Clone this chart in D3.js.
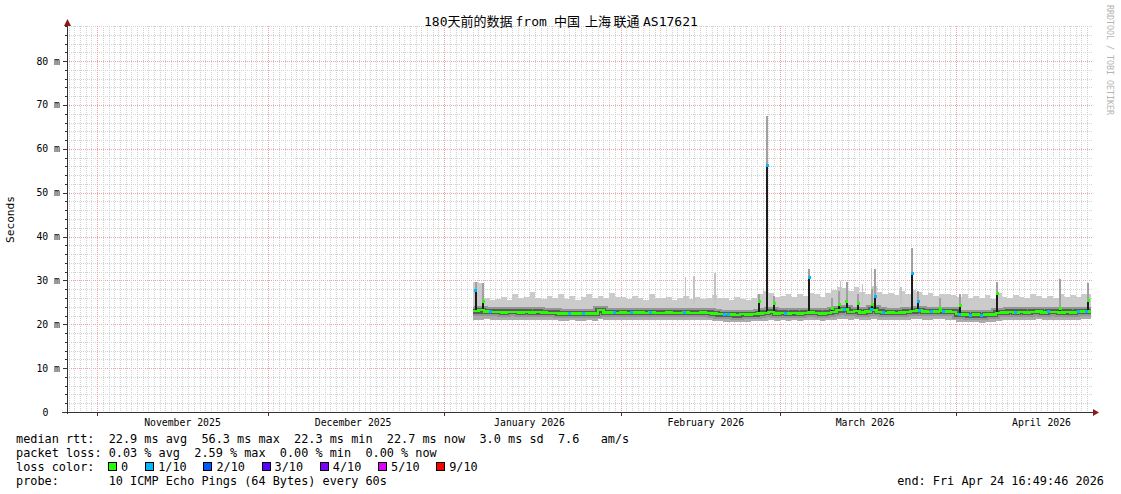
<!DOCTYPE html>
<html><head><meta charset="utf-8">
<script src="https://cdn.jsdelivr.net/npm/d3@7"></script>
<style>body{margin:0;background:#fff}svg{display:block}text{font-family:"DejaVu Sans Mono","Noto Sans CJK SC",monospace}</style>
</head><body><svg id="c" width="1121" height="494"></svg>
<script>
// ---------- data ----------
const firstDay = "2026-01-06";              // first day with data (daily buckets)
const medianRtt = [
 23.0,23.2,22.9,22.8,22.8,22.7,22.8,22.8,22.7,22.8,22.7,22.8,22.7,22.6,22.6,22.5,22.4,22.4,22.5,22.4,22.4,22.5,23.2,22.7,22.7,22.6,
 22.7,22.6,22.7,22.7,22.6,22.7,22.6,22.6,22.7,22.6,22.6,22.7,22.6,22.6,22.7,22.6,22.5,22.3,22.3,22.2,22.1,22.3,22.2,22.3,22.4,22.6,22.8,22.5,
 22.6,22.5,22.6,22.5,22.6,22.7,22.6,22.5,22.6,22.8,23.2,23.4,22.8,23.0,22.7,22.9,23.3,22.8,22.6,22.7,22.6,22.7,22.8,23.0,23.2,22.9,22.8,22.9,23.0,22.9,22.8,
 22.3,22.2,22.1,22.2,22.1,22.2,22.2,22.6,22.7,22.8,22.7,22.8,22.7,22.8,22.9,22.7,22.8,22.8,22.7,22.8,22.7,22.8,22.9,22.9];
const maxRtt = [
 29.6,29.4,26.0,25.5,25.8,26.3,25.6,26.8,25.9,26.2,27.4,26.0,25.7,26.5,26.1,27.0,25.8,26.4,25.6,26.2,26.9,25.9,26.5,26.0,27.1,26.3,
 26.2,25.7,26.4,26.0,25.5,26.8,26.1,25.9,26.3,25.6,26.0,26.5,25.8,26.2,25.7,26.0,26.6,25.9,26.1,25.5,26.3,25.8,25.6,26.1,27.0,27.6,27.2,26.2,
 26.4,26.9,26.2,27.0,26.5,27.2,26.8,26.3,27.1,27.8,28.6,28.2,27.6,28.4,27.3,27.0,28.8,27.4,26.8,27.2,26.6,27.5,26.9,27.8,27.4,26.7,27.1,26.5,27.0,26.8,26.6,
 26.2,26.8,25.9,26.4,26.1,26.6,25.8,27.2,26.3,26.0,26.7,26.2,25.9,26.8,26.4,26.1,26.5,26.0,26.9,26.3,26.6,26.2,26.8,27.0];
const minRtt = [
 20.9,21.0,21.1,21.0,21.0,20.9,21.0,21.0,20.9,21.0,21.0,20.9,21.0,20.9,20.9,20.8,20.8,20.9,20.8,20.8,20.9,20.8,21.2,21.0,20.9,20.9,
 21.0,20.9,21.0,20.9,20.9,21.0,20.9,20.9,21.0,20.9,20.9,21.0,20.9,20.9,21.0,20.9,20.8,20.7,20.6,20.6,20.5,20.6,20.6,20.7,20.7,20.8,21.0,20.8,
 20.9,20.8,20.9,20.8,20.9,21.0,20.9,20.8,20.9,21.0,21.2,21.3,21.0,21.1,20.9,21.0,21.2,21.0,20.9,21.0,20.9,21.0,21.0,21.1,21.2,21.0,21.0,21.1,21.1,21.0,21.0,
 20.6,20.5,20.5,20.5,20.4,20.5,20.5,20.8,20.9,21.0,20.9,21.0,20.9,21.0,21.1,20.9,21.0,21.0,20.9,21.0,20.9,21.0,21.1,21.1];
// short median spikes: time, median value, smoke top, loss (tenths)
const spikeTimes = ["2026-01-06T14:00","2026-01-07T21:00","2026-02-25T09:00","2026-02-26T19:00","2026-02-28T00:00",
 "2026-03-06T04:00","2026-03-10T05:00","2026-03-11T10:00","2026-03-12T19:00","2026-03-14T19:00","2026-03-17T05:00",
 "2026-03-17T19:00","2026-03-24T07:00","2026-03-25T07:00","2026-03-29T05:00","2026-04-01T17:00","2026-04-08T05:00",
 "2026-04-19T07:00","2026-04-24T05:00"];
const spikeValues = [27.8,25.1,25.1,56.3,24.8,30.7,23.7,24.4,25.1,24.8,24.6,26.3,31.6,25.1,23.7,24.2,27.0,23.7,25.5];
const spikeTops   = [29.6,29.4,27.0,67.5,26.5,32.6,26.0,27.5,29.7,27.0,28.0,32.6,37.3,27.5,26.0,27.0,29.6,30.3,29.4];
const spikeLoss   = [1,0,0,1,0,1,0,0,0,0,0,1,1,1,0,0,0,0,0];
// thin smoke-only peaks
const smokePeakTimes = ["2026-02-12T10:00","2026-02-13T22:00","2026-02-17T14:00","2026-03-11T16:00","2026-03-17T02:00","2026-03-22T08:00","2026-03-15T12:00"];
const smokePeakValues = [30.8,31.1,31.8,29.8,32.8,28.6,29.2];
// times where median had 1/10 loss
const lossTimes = ["2026-01-09T02:00","2026-01-23T00:00","2026-01-25T10:00","2026-01-30T22:00","2026-02-03T00:00",
 "2026-02-06T05:00","2026-02-12T05:00","2026-02-19T05:00","2026-02-19T22:00","2026-03-02T02:00","2026-03-12T07:00",
 "2026-03-17T02:00","2026-03-19T07:00","2026-03-25T12:00","2026-03-27T14:00","2026-03-29T17:00","2026-04-01T12:00",
 "2026-04-03T14:00","2026-04-05T10:00","2026-04-11T12:00","2026-04-17T05:00","2026-04-22T10:00","2026-04-23T22:00"];
const yTicks = [0,10,20,30,40,50,60,70,80];
const monthLabels = ["November 2025","December 2025","January 2026","February 2026","March 2026","April 2026"];
const lossLabels = ["0","1/10","2/10","3/10","4/10","5/10","9/10"];
const lossColors = ["#26ff00","#00b8ff","#0059ff","#5e00ff","#7e00ff","#dd00ff","#ff0000"];
const legendRows = [
 "median rtt:  22.9 ms avg  56.3 ms max  22.3 ms min  22.7 ms now  3.0 ms sd  7.6   am/s",
 "packet loss: 0.03 % avg  2.59 % max  0.00 % min  0.00 % now",
 "loss color:",
 "probe:       10 ICMP Echo Pings (64 Bytes) every 60s"];
const endText = "end: Fri Apr 24 16:49:46 2026";

// ---------- drawing ----------
const svg = d3.select("#c");
svg.append("rect").attr("width",1121).attr("height",494).attr("fill","#fff");
const P = (s)=>new Date(s+"Z");
const t0 = P("2025-10-26T16:49:46"), t1 = P("2026-04-24T16:49:46");
const x = d3.scaleUtc().domain([t0,t1]).range([67,1091]);
const y = d3.scaleLinear().domain([0,88]).range([412,26]);
const gL = 67, gR = 1093, gT = 26, gB = 412;

// grid
const grid = svg.append("g").attr("shape-rendering","crispEdges");
d3.range(2,89,2).forEach(v=>{
  const major = v%10===0;
  grid.append("line").attr("x1",gL).attr("x2",gR).attr("y1",Math.round(y(v))+0.5).attr("y2",Math.round(y(v))+0.5)
    .attr("stroke",major?"#f0a0a0":"#d2d2d2").attr("stroke-dasharray","1,1");
});
d3.utcDay.range(d3.utcDay.ceil(t0), t1).forEach(d=>{
  const major = d.getUTCDate()===1;
  const xx = Math.round(x(d))+0.5;
  grid.append("line").attr("x1",xx).attr("x2",xx).attr("y1",gT).attr("y2",gB)
    .attr("stroke",major?"#f0a0a0":"#d2d2d2").attr("stroke-dasharray","1,1");
});

// data
const days = medianRtt.map((v,i)=>d3.utcDay.offset(P(firstDay+"T00:00"),i));
const pts = days.map((d,i)=>({t:d,med:medianRtt[i],max:maxRtt[i],min:minRtt[i]}));
pts.push({t:t1,med:medianRtt[medianRtt.length-1],max:maxRtt[maxRtt.length-1],min:minRtt[minRtt.length-1]});
const dayIdx = t => Math.max(0,Math.min(medianRtt.length-1, d3.utcDay.count(P(firstDay+"T00:00"), t)));

const data = svg.append("g").attr("shape-rendering","crispEdges");
data.append("path").datum(pts).attr("fill","#cbcbcb")
  .attr("d",d3.area().curve(d3.curveStepAfter).x(d=>x(d.t)).y0(d=>y(d.min)).y1(d=>y(d.max)));
data.append("path").datum(pts).attr("fill","#ababab")
  .attr("d",d3.area().curve(d3.curveStepAfter).x(d=>x(d.t)).y0(d=>y(d.min)).y1(d=>y(d.med)));
// smoke-only peaks
smokePeakTimes.forEach((s,i)=>{
  const t=P(s), b=medianRtt[dayIdx(t)];
  data.append("rect").attr("x",x(t)-0.75).attr("width",1.5).attr("y",y(smokePeakValues[i]))
    .attr("height",y(b+2)-y(smokePeakValues[i])).attr("fill","#c4c4c4");
});
const medLine = d3.line().curve(d3.curveStepAfter).x(d=>x(d.t)).y(d=>y(d.med));
data.append("path").datum(pts).attr("fill","none").attr("stroke","#969696").attr("stroke-width",9).attr("d",medLine);
data.append("path").datum(pts).attr("fill","none").attr("stroke","#5c5c5c").attr("stroke-width",5).attr("d",medLine);
// spikes
spikeTimes.forEach((s,i)=>{
  const t=P(s), xs=x(t), b=medianRtt[dayIdx(t)];
  data.append("rect").attr("x",xs-1).attr("width",2).attr("y",y(spikeTops[i]))
    .attr("height",y(spikeValues[i])-y(spikeTops[i])).attr("fill","#a0a0a0");
  data.append("rect").attr("x",xs-1).attr("width",2).attr("y",y(spikeValues[i]))
    .attr("height",y(b)-y(spikeValues[i])).attr("fill","#1c1c1c");
});
data.append("path").datum(pts).attr("fill","none").attr("stroke",lossColors[0]).attr("stroke-width",2.5).attr("d",medLine);
spikeTimes.forEach((s,i)=>{
  const t=P(s);
  data.append("rect").attr("x",x(t)-1.5).attr("width",3).attr("y",y(spikeValues[i])-1.5).attr("height",3)
    .attr("fill",lossColors[spikeLoss[i]]);
});
lossTimes.forEach(s=>{
  const t=P(s);
  data.append("rect").attr("x",x(t)-1.5).attr("width",3).attr("y",y(medianRtt[dayIdx(t)])-1.5).attr("height",3)
    .attr("fill",lossColors[1]);
});

// axes
const ax = svg.append("g").attr("shape-rendering","crispEdges");
ax.append("line").attr("x1",67.5).attr("x2",67.5).attr("y1",gB+2).attr("y2",23).attr("stroke","#333");
ax.append("line").attr("x1",62).attr("x2",1095).attr("y1",412.5).attr("y2",412.5).attr("stroke","#333");
svg.append("path").attr("d","M64,26L71,26L67.5,19Z").attr("fill","#8b1a1a");
svg.append("path").attr("d","M1093,409L1093,416L1099,412.5Z").attr("fill","#8b1a1a");
yTicks.forEach(v=>{
  const yy=Math.round(y(v))+0.5;
  ax.append("line").attr("x1",63).attr("x2",67).attr("y1",yy).attr("y2",yy).attr("stroke","#333");
  svg.append("text").attr("x",v===0?48.5:60).attr("y",y(v)+3.5).attr("text-anchor","end")
    .attr("font-size","9.8px").attr("fill","#000").text(v===0?"0":v+" m");
});
d3.range(2,89,2).filter(v=>v%10).forEach(v=>{
  const yy=Math.round(y(v))+0.5;
  ax.append("line").attr("x1",65).attr("x2",67).attr("y1",yy).attr("y2",yy).attr("stroke","#333");
});
const months = d3.utcMonth.range(d3.utcMonth.ceil(t0), t1);
months.forEach((m,i)=>{
  const xx=Math.round(x(m))+0.5;
  ax.append("line").attr("x1",xx).attr("x2",xx).attr("y1",412).attr("y2",416).attr("stroke","#333");
  svg.append("text").attr("x",x(d3.utcDay.offset(m,15))).attr("y",425.5).attr("text-anchor","middle")
    .attr("font-size","9.8px").text(monthLabels[i]);
});

// title
const title = svg.append("text").attr("y",26).attr("font-size","13px").attr("fill","#000");
[["180天前的数据",424],["from",515.5],["中国",554],["上海",585],["联通",613.5],["AS17621",643]].forEach(p=>{
  title.append("tspan").attr("x",p[1]).text(p[0]);
});
svg.append("text").attr("transform","translate(14,219.5) rotate(-90)").attr("text-anchor","middle")
  .attr("font-size","11.2px").text("Seconds");
svg.append("text").attr("transform","translate(1107,5) rotate(90)").attr("font-size","8.3px")
  .attr("fill","#b4b4b4").text("RRDTOOL / TOBI OETIKER");

// legend
const base = [442.5,456.5,470.5,484.5];
legendRows.forEach((r,i)=>{
  svg.append("text").attr("x",16).attr("y",base[i]).attr("font-size","11.85px")
    .style("white-space","pre").attr("xml:space","preserve").text(r);
});
let lx = 108;
lossLabels.forEach((l,i)=>{
  svg.append("rect").attr("x",lx+0.5).attr("y",base[2]-8.5).attr("width",8).attr("height",8)
    .attr("fill",lossColors[i]).attr("stroke","#000").attr("stroke-width",1).attr("shape-rendering","crispEdges");
  svg.append("text").attr("x",lx+13).attr("y",base[2]).attr("font-size","11.85px").text(l);
  lx += 13 + 7.0*l.length + 17.2;
});
svg.append("text").attr("x",1104).attr("y",base[3]).attr("text-anchor","end").attr("font-size","11.85px").text(endText);
</script></body></html>
